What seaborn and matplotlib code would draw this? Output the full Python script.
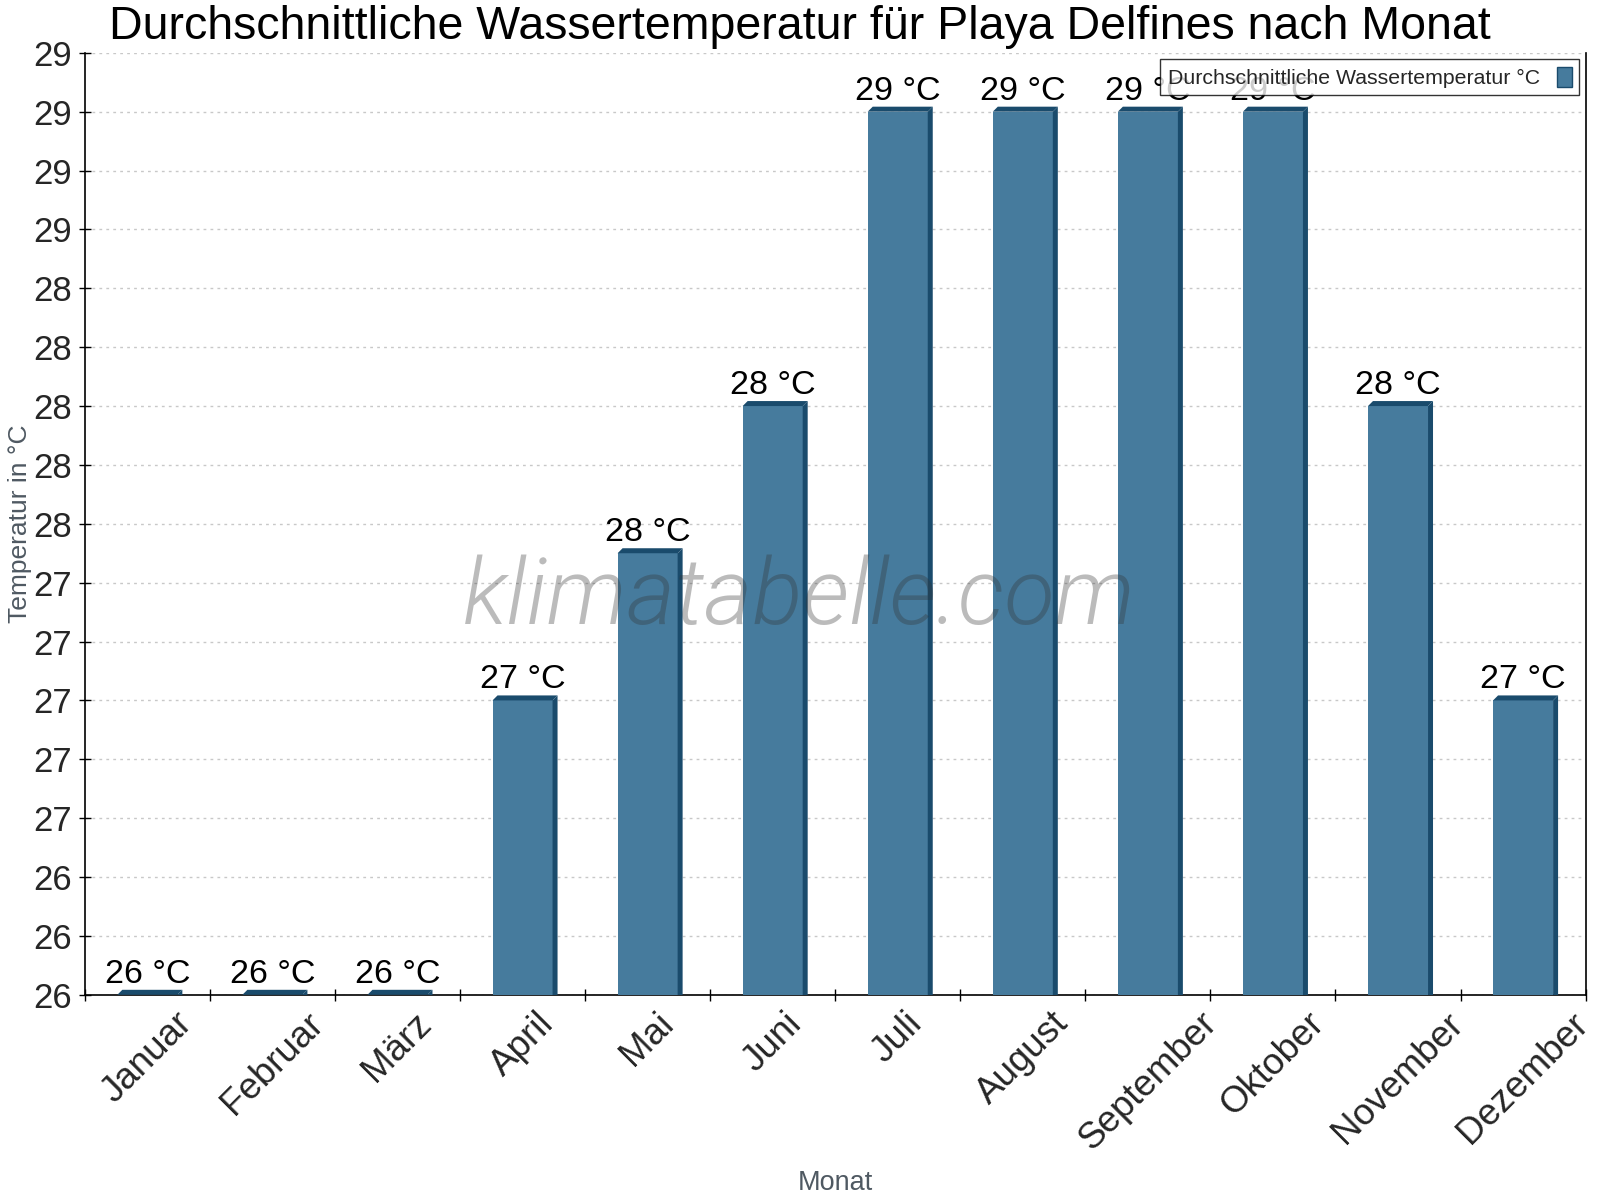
import numpy as np
import pandas as pd
import matplotlib
matplotlib.use('Agg')
import matplotlib.pyplot as plt
from matplotlib.patches import Polygon, Patch
import seaborn as sns

# Durchschnittliche Wassertemperatur Playa Delfines
months = ['Januar', 'Februar', 'März', 'April', 'Mai', 'Juni', 'Juli',
          'August', 'September', 'Oktober', 'November', 'Dezember']
water_temp = [26.0, 26.0, 26.0, 27.0, 27.5, 28.0, 29.0, 29.0, 29.0, 29.0, 28.0, 27.0]
y_ticks = [26.0, 26.2, 26.4, 26.6, 26.8, 27.0, 27.2, 27.4, 27.6, 27.8,
           28.0, 28.2, 28.4, 28.6, 28.8, 29.0, 29.2]

front_col = '#467b9d'
dark_col = '#1a4b6c'

sns.set_style('white')
plt.rcParams['font.family'] = ['Liberation Sans', 'DejaVu Sans']

df = pd.DataFrame({'Monat': months, 'Temp': water_temp})

fig = plt.figure(figsize=(16, 12), dpi=100)
ax = fig.add_axes([0.053, 0.171, 0.938, 0.785])
sns.barplot(data=df, x='Monat', y='Temp', color=front_col, saturation=1,
            width=0.48, ax=ax, zorder=3, linewidth=0, edgecolor='none')
ax.set_ylim(26.0, 29.2)
ax.set_xlim(-0.5, 11.5)

# fake 3d: top face and right side, 5 px deep
bars = list(ax.patches)
inv = ax.transData.inverted()
o = ax.transData.transform((0, 26.0))
dx, dy = inv.transform(o + np.array([5, 5])) - np.array([0, 26.0])
for p in bars:
    x0, w, top = p.get_x(), p.get_width(), p.get_height()
    ax.add_patch(Polygon([(x0, top), (x0 + w, top), (x0 + w + dx, top + dy), (x0 + dx, top + dy)],
                         closed=True, facecolor=dark_col, edgecolor='none', zorder=3))
    ax.add_patch(Polygon([(x0 + w, 0), (x0 + w + dx, dy), (x0 + w + dx, top + dy), (x0 + w, top)],
                         closed=True, facecolor=dark_col, edgecolor='none', zorder=3))

for p, v in zip(bars, water_temp):
    ax.text(p.get_x() + p.get_width() / 2, v + dy, f'{v:.0f} °C', ha='center', va='bottom',
            fontsize=24.5, color='black', zorder=4)

ax.set_yticks(y_ticks)
ax.set_yticklabels([f'{t:.0f}' for t in y_ticks], fontsize=25)
ax.set_xticks(range(len(months)))
ax.set_xticklabels(months, rotation=45, ha='center', fontsize=26.5)
ax.set_xticks(np.arange(-0.5, 12, 1), minor=True)
ax.tick_params(axis='x', which='major', length=0, pad=8)
ax.tick_params(axis='x', which='minor', direction='inout', length=8, width=1, color='black', bottom=True)
ax.tick_params(axis='y', direction='inout', length=8, width=1, color='black', left=True, pad=5)

ax.grid(axis='y', which='major', color='#c8c8c8', linestyle=(0, (2, 3)), linewidth=1, zorder=0)
ax.set_axisbelow(True)
for s in ['left', 'bottom', 'right']:
    ax.spines[s].set_color('black')
    ax.spines[s].set_linewidth(1.2)
ax.spines['top'].set_visible(False)

ax.set_xlabel('Monat', fontsize=19.5, color='#4f5962', va='center')
ax.xaxis.set_label_coords(0.5, -0.2)
ax.set_ylabel('Temperatur in °C', fontsize=19, color='#4f5962', va='center')
ax.yaxis.set_label_coords(-0.043, 0.5)

fig.text(0.5, 1 - 39 / 1200, 'Durchschnittliche Wassertemperatur für Playa Delfines nach Monat',
         ha='center', va='baseline', fontsize=33.5, color='black')

ax.text(0.476, 0.42, 'klimatabelle.com', transform=ax.transAxes, ha='center', va='center',
        fontsize=67, style='italic', fontweight=300, family=['Roboto', 'Liberation Sans'],
        color='#333333', alpha=0.33, zorder=5)

handle = Patch(facecolor=front_col, edgecolor=dark_col, linewidth=1)
leg = ax.legend([handle], ['Durchschnittliche Wassertemperatur °C'], loc='upper right',
                fontsize=15.3, markerfirst=False, frameon=True, fancybox=False,
                handlelength=0.7, handleheight=1.1, borderaxespad=0.3, borderpad=0.35)
leg.get_frame().set_edgecolor('black')
leg.get_frame().set_linewidth(1)
leg.set_zorder(6)

fig.savefig('out.png', dpi=100)
